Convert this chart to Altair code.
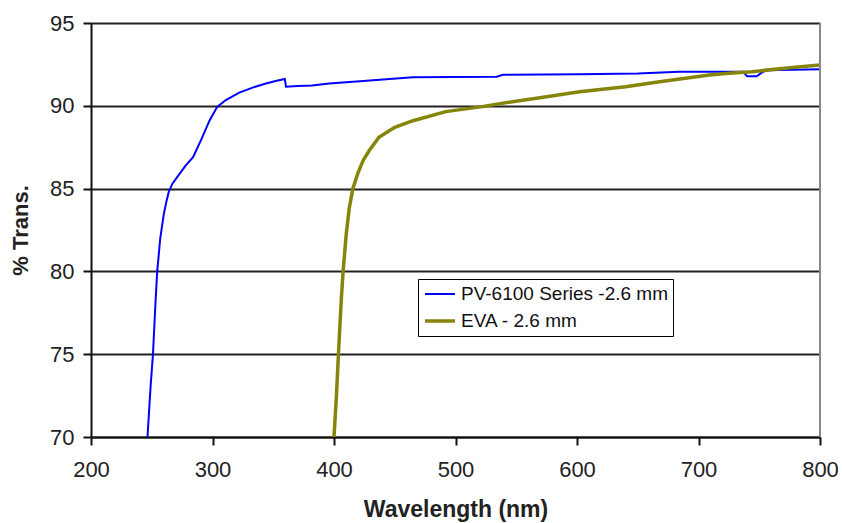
import altair as alt
import pandas as pd

# Transmission spectra (wavelength in nm, transmission in %)
pv_nm = [246.5, 249, 251, 253, 254.5, 257, 260, 262, 264, 267, 273, 278, 284, 291,
         297.5, 304, 311, 322, 333, 344, 352, 359.5, 360.5, 370, 382, 396, 424, 465,
         534, 539, 602, 650, 684, 737, 740, 748, 752, 756, 800]
pv_pct = [70, 73, 75, 78, 80, 82, 83.5, 84.2, 84.8, 85.3, 85.9, 86.4, 86.9, 88.0,
          89.1, 89.95, 90.35, 90.8, 91.1, 91.35, 91.5, 91.62, 91.15, 91.2, 91.22, 91.35, 91.5, 91.72,
          91.75, 91.87, 91.9, 91.95, 92.05, 92.05, 91.78, 91.78, 92.0, 92.15, 92.2]

eva_nm = [400, 402, 404, 406, 407.5, 410, 412.5, 415.5, 420, 424, 429, 437, 450, 465,
          492, 522, 547, 575, 602, 640, 668, 709, 725, 744, 775, 800]
eva_pct = [70, 72.5, 75.5, 78.3, 80, 82.2, 83.8, 85.0, 86.0, 86.7, 87.3, 88.1, 88.7, 89.1,
           89.65, 89.95, 90.25, 90.55, 90.85, 91.15, 91.45, 91.86, 91.96, 92.06, 92.3, 92.46]

series_names = ["PV-6100 Series -2.6 mm", "EVA - 2.6 mm"]
series_colors = ["#0000ff", "#85850a"]
series_widths = [2, 3.5]

x_ticks = [200, 300, 400, 500, 600, 700, 800]
y_ticks = [70, 75, 80, 85, 90, 95]

df = pd.concat([
    pd.DataFrame({"nm": pv_nm, "pct": pv_pct, "series": series_names[0], "order": range(len(pv_nm))}),
    pd.DataFrame({"nm": eva_nm, "pct": eva_pct, "series": series_names[1], "order": range(len(eva_nm))}),
])

FONT = "Liberation Sans"

# legend swatch: a horizontal stroke longer than the nominal symbol box
legend_cfg = dict(
    title=None,
    orient="none",
    legendX=327,
    legendY=256,
    direction="vertical",
    strokeColor="black",
    fillColor="white",
    padding=5,
    rowPadding=6,
    symbolType="M-1,0H2.33",
    symbolSize=324,
    labelFontSize=19,
    labelFont=FONT,
    labelColor="#111",
    labelOffset=16,
    labelLimit=400,
)

x_axis = alt.Axis(
    values=x_ticks, title="Wavelength (nm)", grid=False, labelFlush=False,
    domainColor="#111", domainWidth=2, tickColor="#111", tickWidth=2, tickSize=8,
    labelFont=FONT, labelFontSize=22, labelColor="#222", labelPadding=14,
    titleFont=FONT, titleFontSize=23, titleFontWeight="bold", titleColor="#222", titlePadding=18,
)
y_axis = alt.Axis(
    values=y_ticks, title="% Trans.", grid=True, gridColor="#222", gridWidth=2, labelFlush=False,
    domainColor="#111", domainWidth=2, tickColor="#111", tickWidth=2, tickSize=8,
    labelFont=FONT, labelFontSize=22, labelColor="#222", labelPadding=9,
    titleFont=FONT, titleFontSize=22, titleFontWeight="bold", titleColor="#222", titlePadding=17,
)

lines = alt.Chart(df).mark_line(clip=True).encode(
    x=alt.X("nm:Q", scale=alt.Scale(domain=[200, 800], nice=False, zero=False), axis=x_axis),
    y=alt.Y("pct:Q", scale=alt.Scale(domain=[70, 95], nice=False, zero=False), axis=y_axis),
    color=alt.Color("series:N", scale=alt.Scale(domain=series_names, range=series_colors),
                    legend=alt.Legend(**legend_cfg)),
    strokeWidth=alt.StrokeWidth("series:N", scale=alt.Scale(domain=series_names, range=series_widths),
                                legend=alt.Legend(**legend_cfg)),
    order="order:Q",
    detail="series:N",
)

# right-hand plot border
border = alt.Chart(pd.DataFrame({"nm": [800]})).mark_rule(color="#888", strokeWidth=2).encode(
    x="nm:Q",
    y=alt.value(0),
    y2=alt.value(414),
)

chart = alt.layer(lines, border).properties(
    width=729,
    height=414,
    autosize=alt.AutoSizeParams(type="none"),
    padding={"left": 91, "top": 23, "right": 22, "bottom": 86},
    background="white",
).configure_view(stroke=None)

chart.save("out.html", embed_options={"renderer": "svg", "actions": False})
